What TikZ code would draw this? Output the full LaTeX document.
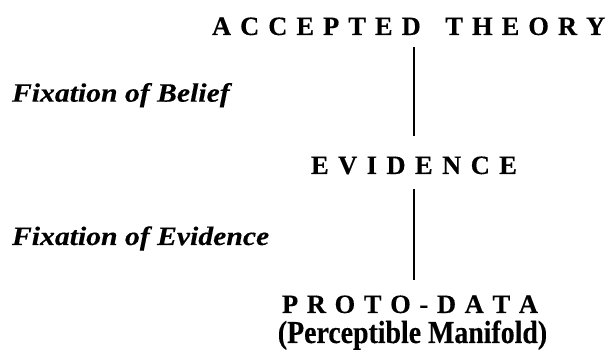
\documentclass[tikz,border=0pt]{standalone}
\usepackage{fontspec}
\setmainfont{Liberation Serif}
\newfontfamily\capfont[FakeBold=0.35]{Liberation Serif}
\newfontfamily\labfont[FakeStretch=1.12,FakeBold=0.3]{Liberation Serif}
\newfontfamily\pmfont[FakeStretch=0.87,FakeBold=0.3]{Liberation Serif}
\newlength\lsk
\makeatletter
\def\lsp#1{\lsp@a#1\relax}
\def\lsp@a#1{#1\lsp@b}
\def\lsp@b#1{\ifx#1\relax\else\kern\lsk#1\expandafter\lsp@b\fi}
\makeatother
\tikzset{
  capnode/.style={inner sep=0pt, outer sep=0pt, anchor=base west,
    font=\capfont\fontsize{26.5pt}{30pt}\selectfont\bfseries},
  labnode/.style={inner sep=0pt, outer sep=0pt, anchor=base west,
    font=\labfont\fontsize{26.5pt}{30pt}\selectfont\bfseries\itshape},
  pmnode/.style={inner sep=0pt, outer sep=0pt, anchor=base,
    font=\pmfont\fontsize{32pt}{36pt}\selectfont\bfseries},
  conn/.style={draw=black, line width=1.3pt}
}
\begin{document}
\begin{tikzpicture}[x=1pt,y=1pt]
\useasboundingbox (0,0) rectangle (609,352);
\node[capnode] (at) at (212,317) {\lsk=9.0pt\lsp{ACCEPTED~THEORY}};
\node[capnode] (ev) at (311,178) {\lsk=9.44pt\lsp{EVIDENCE}};
\node[capnode] (pd) at (282,39) {\lsk=8.65pt\lsp{PROTO-DATA}};
\node[pmnode] (pm) at (412.5,9) {(Perceptible Manifold)};
\node[labnode] (fb) at (12,250.3) {Fixation of Belief};
\node[labnode] (fe) at (12,107) {Fixation of Evidence};
\coordinate (lx) at (414,0);
\draw[conn, shorten <=11.7pt, shorten >=20.4pt] (at.south -| lx) -- (ev.north -| lx);
\draw[conn, shorten <=15pt, shorten >=15.4pt] (ev.south -| lx) -- (pd.north -| lx);
\end{tikzpicture}
\end{document}
